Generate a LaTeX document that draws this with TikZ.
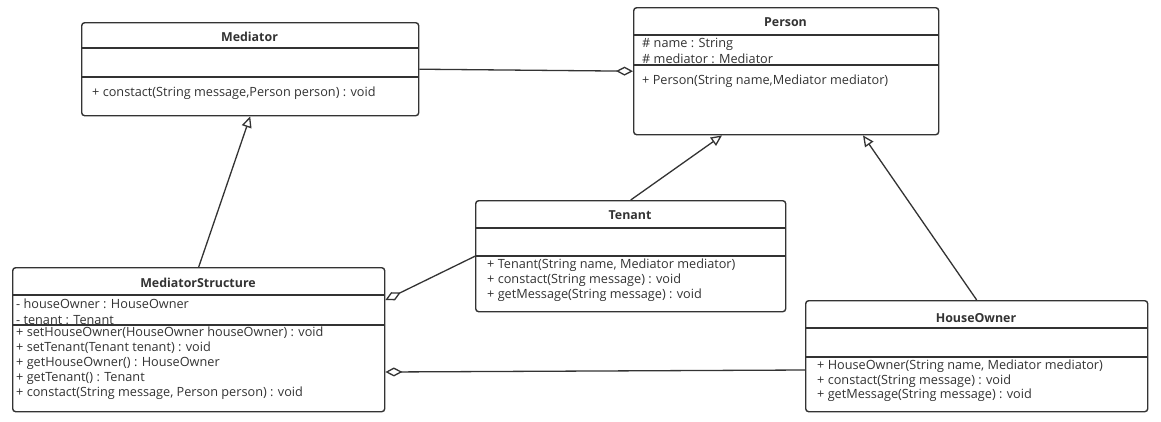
\documentclass[tikz,border=0pt]{standalone}
\usepackage{fontspec}
\setmainfont{Open Sans}
\usetikzlibrary{arrows.meta,calc}
\definecolor{ink}{HTML}{333333}
\begin{document}
\begin{tikzpicture}[x=1pt,y=-1pt,
 box/.style={draw=ink, line width=1.4pt, rounded corners=3pt, anchor=north west, inner sep=0pt},
 sep/.style={draw=ink, line width=1.4pt},
 ttl/.style={font=\fontsize{12.4}{15}\selectfont\bfseries, text=ink, inner sep=0pt},
 mem/.style={font=\fontsize{12.7}{15}\selectfont, text=ink, inner sep=0pt, anchor=west},
 gen/.style={draw=ink, line width=1.3pt, -{Triangle[open,length=11pt,width=10pt]}},
 agg/.style={draw=ink, line width=1.3pt, -{Diamond[open,length=17pt,width=9pt]}},
]
\useasboundingbox (0,0) rectangle (1161,421);
\fill[white] (0,0) rectangle (1161,421);

% Mediator
\node[box, minimum width=337pt, minimum height=93pt] (med) at (81,22) {};
\draw[sep] ($(med.north west)+(0,26)$) -- ($(med.north east)+(0,26)$);
\draw[sep] ($(med.north west)+(0,55)$) -- ($(med.north east)+(0,55)$);
\node[ttl] (medT) at (249.5,37) {Mediator};
\node[mem] (medM1) at (92,93) {+ constact(String message,Person person) : void};

% Person
\node[box, minimum width=305pt, minimum height=127pt] (person) at (633,7) {};
\draw[sep] ($(person.north west)+(0,28)$) -- ($(person.north east)+(0,28)$);
\draw[sep] ($(person.north west)+(0,58)$) -- ($(person.north east)+(0,58)$);
\node[ttl] (personT) at (785.5,22.5) {Person};
\node[mem] (personA1) at (642,44) {\# name : String};
\node[mem] (personA2) at (642,59) {\# mediator : Mediator};
\node[mem] (personM1) at (642,81) {+ Person(String name,Mediator mediator)};

% Tenant
\node[box, minimum width=310pt, minimum height=111pt] (tenant) at (475,200) {};
\draw[sep] ($(tenant.north west)+(0,28)$) -- ($(tenant.north east)+(0,28)$);
\draw[sep] ($(tenant.north west)+(0,56)$) -- ($(tenant.north east)+(0,56)$);
\node[ttl] (tenantT) at (630,215) {Tenant};
\node[mem] (tenantM1) at (487,265) {+ Tenant(String name, Mediator mediator)};
\node[mem] (tenantM2) at (487,280) {+ constact(String message) : void};
\node[mem] (tenantM3) at (487,295) {+ getMessage(String message) : void};

% MediatorStructure
\node[box, minimum width=372pt, minimum height=144pt] (ms) at (12,267) {};
\draw[sep] ($(ms.north west)+(0,28)$) -- ($(ms.north east)+(0,28)$);
\draw[sep] ($(ms.north west)+(0,58)$) -- ($(ms.north east)+(0,58)$);
\node[ttl] (msT) at (198,283) {MediatorStructure};
\node[mem] (msA1) at (16,304) {- houseOwner : HouseOwner};
\node[mem] (msA2) at (16,320) {- tenant : Tenant};
\node[mem] (msM1) at (16,333) {+ setHouseOwner(HouseOwner houseOwner) : void};
\node[mem] (msM2) at (16,348) {+ setTenant(Tenant tenant) : void};
\node[mem] (msM3) at (16,363) {+ getHouseOwner() : HouseOwner};
\node[mem] (msM4) at (16,378) {+ getTenant() : Tenant};
\node[mem] (msM5) at (16,393) {+ constact(String message, Person person) : void};

% HouseOwner
\node[box, minimum width=342pt, minimum height=111pt] (ho) at (805,300) {};
\draw[sep] ($(ho.north west)+(0,28)$) -- ($(ho.north east)+(0,28)$);
\draw[sep] ($(ho.north west)+(0,57)$) -- ($(ho.north east)+(0,57)$);
\node[ttl] (hoT) at (976,318) {HouseOwner};
\node[mem] (hoM1) at (817,366) {+ HouseOwner(String name, Mediator mediator)};
\node[mem] (hoM2) at (817,381) {+ constact(String message) : void};
\node[mem] (hoM3) at (817,395) {+ getMessage(String message) : void};

% connectors
\coordinate (pT) at ($(person.south west)+(89,0)$);
\coordinate (pH) at ($(person.south west)+(230,0)$);
\coordinate (msTa) at ($(ms.north east)+(0,33)$);
\coordinate (msHa) at ($(ms.north east)+(0,105)$);
\coordinate (hoL) at ($(ho.north west)+(0,70)$);

\draw[agg] (med.east) -- (person.west);
\draw[gen] (ms.north) -- (med.south);
\draw[gen] (tenant.north) -- (pT);
\draw[gen] (ho.north) -- (pH);
\draw[agg] (tenant.west) -- (msTa);
\draw[agg] (hoL) -- (msHa);
\end{tikzpicture}
\end{document}
